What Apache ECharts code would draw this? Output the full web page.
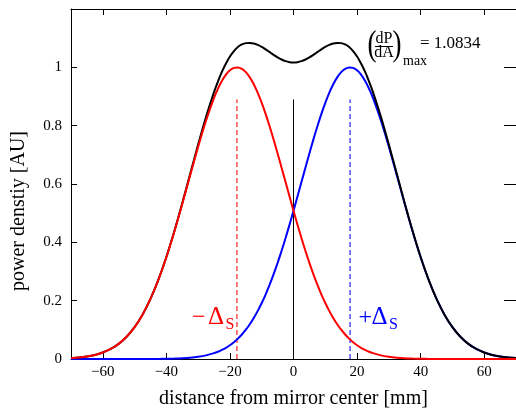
<!DOCTYPE html>
<html>
<head>
<meta charset="utf-8">
<script src="https://cdn.jsdelivr.net/npm/echarts@6/dist/echarts.min.js"></script>
<style>
  html, body { margin: 0; padding: 0; background: #fff; }
  #chart { width: 516px; height: 414px; }
</style>
</head>
<body>
<div id="chart"></div>
<script>
// Sample positions along the mirror [mm] (finer spacing near the centre)
const xs = [-70, -67.5, -65, -62.5, -60, -57.5, -55, -52.5, -50, -47.5, -45, -42.5, -40, -37.5,
  -35, -32.5, -30, -27.5, -25,
  -23.75, -22.5, -21.25, -20, -18.75, -17.5, -16.25, -15, -13.75, -12.5, -11.25, -10, -8.75,
  -7.5, -6.25, -5, -3.75, -2.5, -1.25, 0, 1.25, 2.5, 3.75, 5, 6.25, 7.5, 8.75, 10, 11.25,
  12.5, 13.75, 15, 16.25, 17.5, 18.75, 20, 21.25, 22.5, 23.75,
  25, 27.5, 30, 32.5, 35, 37.5, 40, 42.5, 45, 47.5, 50, 52.5, 55, 57.5, 60, 62.5, 65, 67.5, 70];

// Beam shifted by -Δs (red)
const redVals = [0.0030, 0.0051, 0.0086, 0.0140, 0.0223, 0.0345, 0.0520, 0.0764, 0.1092, 0.1520,
  0.2059, 0.2717, 0.3490, 0.4365, 0.5316, 0.6303, 0.7277, 0.8179, 0.8952,
  0.9272, 0.9539, 0.9749, 0.9897, 0.9981, 0.9998, 0.9949, 0.9834, 0.9656, 0.9418, 0.9124,
  0.8782, 0.8395, 0.7972, 0.7521, 0.7048, 0.6560, 0.6065, 0.5571, 0.5083, 0.4607, 0.4147,
  0.3709, 0.3295, 0.2907, 0.2549, 0.2219, 0.1919, 0.1649, 0.1407, 0.1193, 0.1005, 0.0841,
  0.0699, 0.0577, 0.0473, 0.0385, 0.0312, 0.0250,
  0.0200, 0.0125, 0.0076, 0.0045, 0.0026, 0.0015, 0.0008, 0.0004, 0.0002, 0.0001, 0.0001,
  0, 0, 0, 0, 0, 0, 0, 0];

// Beam shifted by +Δs (blue)
const blueVals = [0, 0, 0, 0, 0, 0, 0, 0, 0.0001, 0.0001, 0.0002, 0.0004, 0.0008, 0.0015, 0.0026,
  0.0045, 0.0076, 0.0125, 0.0200,
  0.0250, 0.0312, 0.0385, 0.0473, 0.0577, 0.0699, 0.0841, 0.1005, 0.1193, 0.1407, 0.1649,
  0.1919, 0.2219, 0.2549, 0.2907, 0.3295, 0.3709, 0.4147, 0.4607, 0.5083, 0.5571, 0.6065,
  0.6560, 0.7048, 0.7521, 0.7972, 0.8395, 0.8782, 0.9124, 0.9418, 0.9656, 0.9834, 0.9949,
  0.9998, 0.9981, 0.9897, 0.9749, 0.9539, 0.9272,
  0.8952, 0.8179, 0.7277, 0.6303, 0.5316, 0.4365, 0.3490, 0.2717, 0.2059, 0.1520, 0.1092,
  0.0764, 0.0520, 0.0345, 0.0223, 0.0140, 0.0086, 0.0051, 0.0030];

// Total power density (black)
const sumVals = [0.0030, 0.0051, 0.0086, 0.0140, 0.0223, 0.0345, 0.0520, 0.0764, 0.1093, 0.1521,
  0.2061, 0.2721, 0.3498, 0.4380, 0.5342, 0.6348, 0.7353, 0.8304, 0.9152,
  0.9522, 0.9851, 1.0134, 1.0370, 1.0558, 1.0697, 1.0785, 1.0830, 1.0834, 1.0818, 1.0770,
  1.0701, 1.0614, 1.0521, 1.0428, 1.0343, 1.0269, 1.0212, 1.0178, 1.0166, 1.0178, 1.0212,
  1.0269, 1.0343, 1.0428, 1.0521, 1.0614, 1.0701, 1.0770, 1.0818, 1.0834, 1.0830, 1.0785,
  1.0697, 1.0558, 1.0370, 1.0134, 0.9851, 0.9522,
  0.9152, 0.8304, 0.7353, 0.6348, 0.5342, 0.4380, 0.3498, 0.2721, 0.2061, 0.1521, 0.1093,
  0.0764, 0.0520, 0.0345, 0.0223, 0.0140, 0.0086, 0.0051, 0.0030];

const deltaS = 17.8;       // beam offset [mm]
const markerTop = 0.89;    // height of the vertical marker lines
const peakValue = '1.0834';

const xTicks = [-60, -40, -20, 0, 20, 40, 60];
const yTicks = [0, 0.2, 0.4, 0.6, 0.8, 1];

const FONT = '"Liberation Serif", "Times New Roman", serif';

const pairs = vals => xs.map((x, i) => [x, vals[i]]);
const minusFmt = v => (v < 0 ? '\u2212' + Math.abs(v) : String(v));

const chart = echarts.init(document.getElementById('chart'), null, { renderer: 'canvas' });

const tickStyle = { color: '#000', width: 1 };
const axisLineStyle = { color: '#000', width: 1 };

function txt(x, y, text, size, color, align, extra) {
  return Object.assign({
    type: 'text', x: x, y: y,
    style: { text: text, fill: color, font: size + 'px ' + FONT, align: align, verticalAlign: 'middle' }
  }, extra || {});
}

const option = {
  backgroundColor: '#fff',
  animation: false,
  grid: { left: 71, top: 9, right: -2.5, bottom: 53, containLabel: false },
  xAxis: [
    {
      type: 'value', position: 'bottom', min: -70, max: 70,
      axisLine: { show: true, onZero: false, lineStyle: axisLineStyle },
      axisTick: { show: true, inside: true, length: 6, lineStyle: tickStyle, customValues: xTicks },
      axisLabel: { show: true, customValues: xTicks, formatter: minusFmt, color: '#000',
        fontFamily: FONT, fontSize: 15, margin: 6 },
      splitLine: { show: false },
      name: 'distance from mirror center [mm]', nameLocation: 'middle', nameGap: 30,
      nameTextStyle: { color: '#000', fontFamily: FONT, fontSize: 20 }
    },
    {
      type: 'value', position: 'top', min: -70, max: 70,
      axisLine: { show: true, onZero: false, lineStyle: axisLineStyle },
      axisTick: { show: true, inside: true, length: 6, lineStyle: tickStyle, customValues: xTicks },
      axisLabel: { show: false },
      splitLine: { show: false }
    }
  ],
  yAxis: [
    {
      type: 'value', position: 'left', min: 0, max: 1.2, interval: 0.2,
      axisLine: { show: true, onZero: false, lineStyle: axisLineStyle },
      axisTick: { show: true, inside: true, length: 6, lineStyle: tickStyle, customValues: yTicks },
      axisLabel: { show: true, customValues: yTicks, color: '#000', fontFamily: FONT, fontSize: 15, margin: 9 },
      splitLine: { show: false }
    },
    {
      type: 'value', position: 'right', min: 0, max: 1.2, interval: 0.2,
      axisLine: { show: true, onZero: false, lineStyle: axisLineStyle },
      axisTick: { show: true, inside: true, length: 12, lineStyle: tickStyle, customValues: yTicks },
      axisLabel: { show: false },
      splitLine: { show: false }
    }
  ],
  series: [
    {
      name: '+Δs', type: 'line', data: pairs(blueVals), smooth: 0.3, showSymbol: false,
      lineStyle: { color: '#0000ff', width: 2 }, z: 3
    },
    {
      name: 'total', type: 'line', data: pairs(sumVals), smooth: 0.3, showSymbol: false,
      lineStyle: { color: '#000000', width: 2 }, z: 4
    },
    {
      name: '−Δs', type: 'line', data: pairs(redVals), smooth: 0.3, showSymbol: false,
      lineStyle: { color: '#ff0000', width: 2 }, z: 5
    },
    {
      name: 'marker −Δs', type: 'line', data: [[-deltaS, 0], [-deltaS, markerTop]], showSymbol: false,
      lineStyle: { color: '#ff3030', width: 1.3, type: [5, 3] }, z: 2
    },
    {
      name: 'marker +Δs', type: 'line', data: [[deltaS, 0], [deltaS, markerTop]], showSymbol: false,
      lineStyle: { color: '#3030ff', width: 1.3, type: [5, 3] }, z: 2
    },
    {
      name: 'center', type: 'line', data: [[0, 0], [0, markerTop]], showSymbol: false,
      lineStyle: { color: '#000', width: 1 }, z: 2
    }
  ],
  graphic: [
    // y-axis title
    txt(19, 211, 'power denstiy [AU]', 20, '#000', 'center', { rotation: Math.PI / 2 }),
    // shift labels: −Δs and +Δs
    txt(192, 317.5, '\u2212', 24, '#ff0000', 'left'),
    txt(208, 317, '\u0394', 25, '#ff0000', 'left'),
    txt(225.5, 325, 'S', 16, '#ff0000', 'left'),
    txt(358.5, 317.5, '+', 24, '#0000ff', 'left'),
    txt(371.5, 317, '\u0394', 25, '#0000ff', 'left'),
    txt(389, 325, 'S', 16, '#0000ff', 'left'),
    // peak annotation (dP/dA)_max = value
    txt(372, 46, '(', 36, '#000', 'center', { scaleX: 0.75 }),
    txt(384, 38.5, 'dP', 16, '#000', 'center'),
    { type: 'line', shape: { x1: 375, y1: 46.5, x2: 393, y2: 46.5 }, style: { stroke: '#000', lineWidth: 1 } },
    txt(384, 53, 'dA', 16, '#000', 'center'),
    txt(397, 46, ')', 36, '#000', 'center', { scaleX: 0.75 }),
    txt(403, 61, 'max', 14, '#000', 'left'),
    txt(420, 44, '= ' + peakValue, 17, '#000', 'left')
  ]
};

chart.setOption(option);
</script>
</body>
</html>
